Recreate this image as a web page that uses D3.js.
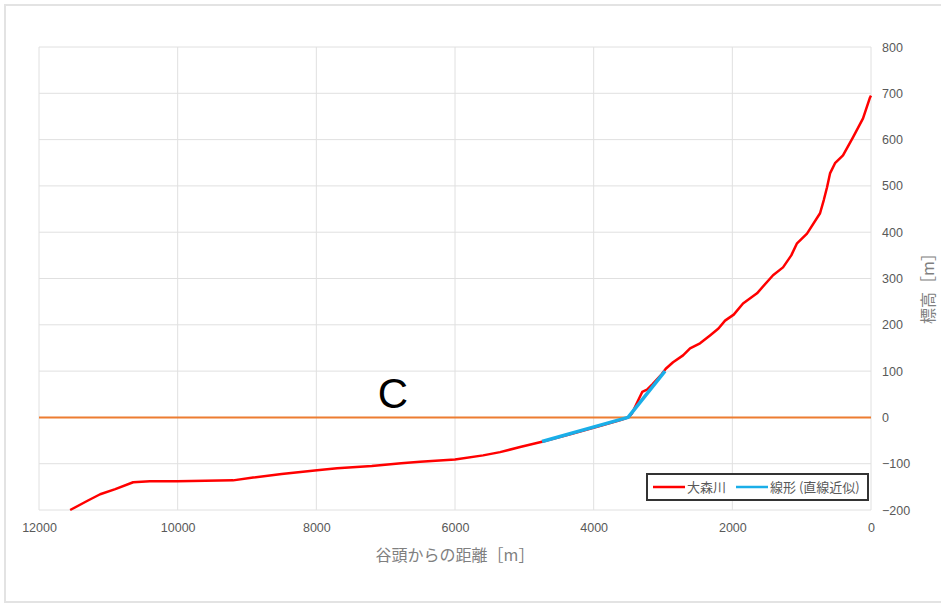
<!DOCTYPE html>
<html><head><meta charset="utf-8">
<script src="https://cdn.jsdelivr.net/npm/d3@7"></script>
<style>
html,body{margin:0;padding:0;background:#fff;}
svg{display:block;font-family:"Noto Sans CJK JP","Noto Sans",sans-serif;}
</style></head>
<body>
<svg id="chart" width="941" height="604"></svg>
<script>
// Data (distance from valley head [m], elevation [m])
const riverDistance = [11551,11300,11118,10900,10642,10400,10007,9600,9200,8911,8500,7989,7700,7200,6777,6503,6000,5595,5350,5061,4730,4300,3900,3600,3500,3450,3380,3300,3230,3150,3020,2960,2855,2711,2610,2466,2322,2200,2105,1980,1846,1644,1413,1269,1150,1067,923,735,680,634,591,519,404,260,115,14,0];
const riverElevation = [-200,-180,-166,-155,-140,-138,-138,-137,-136,-130,-122,-114,-110,-105,-99,-96,-91,-82,-75,-64,-52,-35,-18,-5,0,8,30,55,60,72,93,105,119,134,149,160,177,192,209,222,246,268,307,324,350,376,397,441,470,497,527,549,566,605,646,691,695];
const fitDistance = [4744,3504,2971];
const fitElevation = [-52,0,100];
const xTicks = [12000,10000,8000,6000,4000,2000,0];
const yTicks = [-200,-100,0,100,200,300,400,500,600,700,800];
const seriesNames = ["大森川","線形 (直線近似)"];
const xTitle = "谷頭からの距離［m］";
const yTitle = "標高［m］";
const annotation = "C";
const refLevel = 0;

const svg = d3.select("#chart");
// outer chart frame
svg.append("rect").attr("x",5).attr("y",5).attr("width",945).attr("height",597)
  .attr("fill","#fff").attr("stroke","#e3e3e3").attr("stroke-width",2);

const x = d3.scaleLinear().domain([12000,0]).range([39,871]);
const y = d3.scaleLinear().domain([-200,800]).range([510,47]);

const grid = svg.append("g");
grid.selectAll("line.h").data(yTicks).join("line")
  .attr("x1",x(12000)).attr("x2",x(0)).attr("y1",d=>y(d)).attr("y2",d=>y(d))
  .attr("stroke","#e0e0e0").attr("stroke-width",1);
grid.selectAll("line.v").data(xTicks).join("line")
  .attr("y1",y(800)).attr("y2",y(-200)).attr("x1",d=>x(d)).attr("x2",d=>x(d))
  .attr("stroke","#e0e0e0").attr("stroke-width",1);

// x axis labels
const xAxis = d3.axisBottom(x).tickValues(xTicks).tickSize(0).tickPadding(13).tickFormat(d3.format("d"));
const gx = svg.append("g").attr("transform",`translate(0,${y(-200)})`).call(xAxis);
gx.select(".domain").remove();
gx.selectAll("text").attr("fill","#595959").attr("font-size",12.5).attr("font-family","Liberation Sans, Arial, sans-serif");

const yAxis = d3.axisRight(y).tickValues(yTicks).tickSize(0).tickPadding(11).tickFormat(d3.format("d"));
const gy = svg.append("g").attr("transform",`translate(${x(0)},0)`).call(yAxis);
gy.select(".domain").remove();
gy.selectAll("text").attr("fill","#595959").attr("font-size",12.5).attr("font-family","Liberation Sans, Arial, sans-serif");

// reference line at 0
svg.append("line").attr("x1",x(12000)).attr("x2",x(0)).attr("y1",y(refLevel)).attr("y2",y(refLevel))
  .attr("stroke","#ed7d31").attr("stroke-width",2);

const line = d3.line().x(d=>x(d[0])).y(d=>y(d[1]));
svg.append("path").datum(d3.zip(riverDistance,riverElevation)).attr("d",line)
  .attr("fill","none").attr("stroke","#ff0000").attr("stroke-width",2.5).attr("stroke-linejoin","round");
svg.append("path").datum(d3.zip(fitDistance,fitElevation)).attr("d",line)
  .attr("fill","none").attr("stroke","#1aaee8").attr("stroke-width",3.5).attr("stroke-linejoin","round");

// annotation
svg.append("text").attr("x",393).attr("y",408).attr("text-anchor","middle")
  .attr("font-family","Liberation Sans, Arial, sans-serif").attr("font-size",42).attr("fill","#000").text(annotation);

// axis titles
svg.append("text").attr("x",(x(12000)+x(0))/2).attr("y",561).attr("text-anchor","middle")
  .attr("fill","#7f7f7f").attr("font-size",16).text(xTitle);
svg.append("text").attr("transform",`translate(934,${(y(800)+y(-200))/2+6}) rotate(-90)`).attr("text-anchor","middle")
  .attr("fill","#7f7f7f").attr("font-size",16).text(yTitle);

// legend
const lg = svg.append("g");
lg.append("rect").attr("x",647).attr("y",474).attr("width",221).attr("height",26)
  .attr("fill","#fff").attr("stroke","#333").attr("stroke-width",2);
const colors = ["#ff0000","#1aaee8"];
const lx = [653,736];
seriesNames.forEach((n,i)=>{
  lg.append("line").attr("x1",lx[i]).attr("x2",lx[i]+32).attr("y1",487).attr("y2",487)
    .attr("stroke",colors[i]).attr("stroke-width",2.5);
  lg.append("text").attr("x",lx[i]+34).attr("y",492).attr("font-size",13).attr("fill","#595959").text(n);
});
</script>
</body></html>
